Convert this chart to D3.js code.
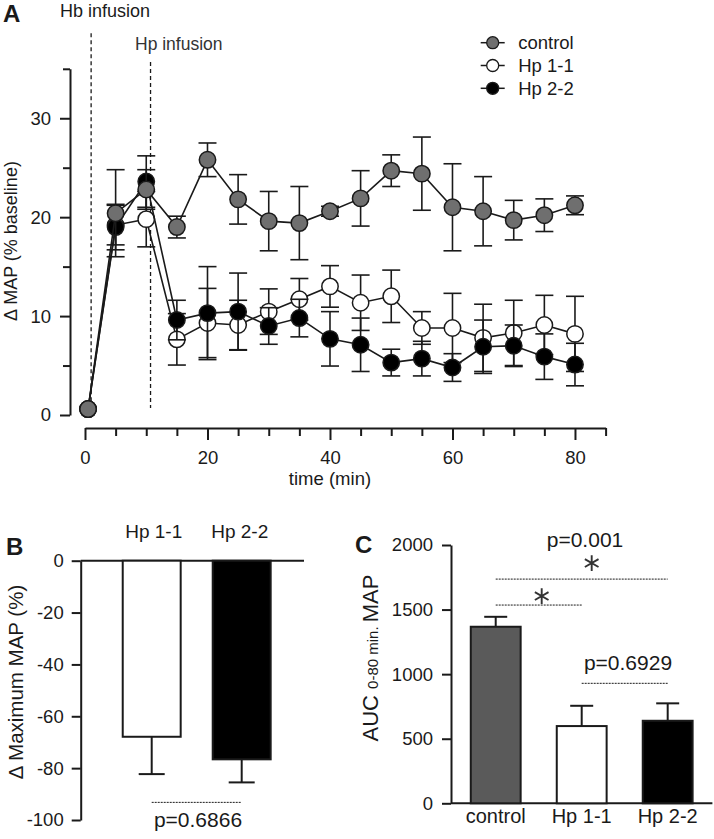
<!DOCTYPE html>
<html><head><meta charset="utf-8">
<script src="https://cdn.jsdelivr.net/npm/d3@7"></script>
<style>
body{margin:0;background:#fff}
svg{display:block;font-family:"Liberation Sans",Arial,Helvetica,sans-serif}
</style>
</head><body>
<svg id="chart" width="714" height="839"></svg>
<script>
// ---------- Panel A data ----------
const timeMin = [0.5, 5, 10, 15, 20, 25, 30, 35, 40, 45, 50, 55, 60, 65, 70, 75, 80];
const controlMAP = [0.6, 20.4, 22.8, 19.0, 25.8, 21.8, 19.6, 19.4, 20.6, 21.9, 24.7, 24.4, 21.0, 20.6, 19.7, 20.2, 21.2];
const controlSEM = [0, 4.4, 2.0, 1.1, 1.7, 2.5, 3.0, 3.7, 0.5, 2.8, 1.6, 3.7, 4.4, 3.5, 2.0, 1.65, 0.95];
const hp11MAP = [0.6, 19.2, 19.8, 7.65, 9.3, 9.1, 10.45, 11.7, 13.0, 11.35, 12.0, 8.8, 8.8, 7.8, 8.3, 9.1, 8.2];
const hp11SEM = [0, 2.0, 2.8, 2.6, 3.5, 2.5, 2.3, 2.1, 2.1, 2.8, 2.65, 1.65, 3.5, 3.4, 3.3, 3.0, 3.8];
const hp22MAP = [0.6, 19.0, 23.6, 9.6, 10.3, 10.45, 9.0, 9.8, 7.7, 7.1, 5.3, 5.7, 4.8, 6.9, 7.0, 5.9, 5.1];
const hp22SEM = [0, 2.3, 2.6, 2.0, 4.7, 3.9, 1.85, 1.9, 2.75, 2.7, 1.35, 1.75, 1.4, 2.7, 2.1, 2.3, 2.15];
const xTicksA = [0, 20, 40, 60, 80];
const yTicksA = [0, 10, 20, 30];
const hbInfusionTime = 1;
const hpInfusionTime = 10.7;

// ---------- Panel B data ----------
const catB = ["Hp 1-1", "Hp 2-2"];
const maxMAP = [-67.9, -76.6];
const maxMAPsem = [14.4, 8.9];
const yTicksB = [0, -20, -40, -60, -80, -100];

// ---------- Panel C data ----------
const catC = ["control", "Hp 1-1", "Hp 2-2"];
const aucMAP = [1367, 598, 639];
const aucSEM = [77, 157, 135];
const yTicksC = [0, 500, 1000, 1500, 2000];

const svg = d3.select("#chart");
const ink = "#1a1a1a";

function styleAxis(g, fs) {
  g.selectAll("path").attr("stroke", ink).attr("stroke-width", 2);
  g.selectAll("line").attr("stroke", ink).attr("stroke-width", 2);
  g.selectAll("text").attr("fill", ink).style("font-size", fs + "px").style("font-family", '"Liberation Sans",Arial,sans-serif');
}

// ================= PANEL A =================
const xA = d3.scaleLinear().domain([0, 85]).range([85, 605.6]);
const yA = d3.scaleLinear().domain([0, 35]).range([415, 68.8]);
const yAxisX = 70, xAxisY = 428;

const gyA = svg.append("g").attr("transform", `translate(${yAxisX},0)`)
  .call(d3.axisLeft(yA).tickValues(yTicksA).tickSize(10).tickSizeOuter(0).tickPadding(9));
styleAxis(gyA, 18.5);
const gyA2 = svg.append("g").attr("transform", `translate(${yAxisX},0)`)
  .call(d3.axisLeft(yA).tickValues(d3.range(5, 40, 10)).tickSize(7).tickFormat(""));
gyA2.select("path").remove();
styleAxis(gyA2, 18);

const gxA = svg.append("g").attr("transform", `translate(0,${xAxisY})`)
  .call(d3.axisBottom(xA).tickValues(xTicksA).tickSize(12).tickSizeOuter(0).tickPadding(11));
styleAxis(gxA, 18.5);
const gxA2 = svg.append("g").attr("transform", `translate(0,${xAxisY})`)
  .call(d3.axisBottom(xA).tickValues(d3.range(5, 90, 5).filter(v => v % 20 !== 0)).tickSize(8).tickFormat(""));
gxA2.select("path").remove();
styleAxis(gxA2, 18);

svg.append("text").attr("transform", `translate(16.5,${241}) rotate(-90)`)
  .attr("text-anchor", "middle").style("font-size", "18px").attr("fill", ink).text("Δ MAP (% baseline)");
svg.append("text").attr("x", xA(40)).attr("y", 485).attr("text-anchor", "middle")
  .style("font-size", "18.5px").attr("fill", ink).text("time (min)");

svg.append("line").attr("x1", xA(hbInfusionTime)).attr("x2", xA(hbInfusionTime))
  .attr("y1", yA(38.6)).attr("y2", yA(0.7))
  .attr("stroke", ink).attr("stroke-width", 1.3).attr("stroke-dasharray", "4,3");
svg.append("line").attr("x1", xA(hpInfusionTime)).attr("x2", xA(hpInfusionTime))
  .attr("y1", yA(35.7)).attr("y2", yA(0.7))
  .attr("stroke", ink).attr("stroke-width", 1.3).attr("stroke-dasharray", "4,3");
svg.append("text").attr("x", 60).attr("y", 17).style("font-size", "18px").attr("fill", ink).text("Hb infusion");
svg.append("text").attr("x", 135).attr("y", 50).style("font-size", "17.5px").attr("fill", "#333").text("Hp infusion");
svg.append("text").attr("x", 3).attr("y", 22).style("font-size", "24px").style("font-weight", "bold").attr("fill", ink).text("A");

const seriesA = [
  { name: "Hp 1-1", vals: hp11MAP, errs: hp11SEM, fill: "#ffffff" },
  { name: "Hp 2-2", vals: hp22MAP, errs: hp22SEM, fill: "#000000" },
  { name: "control", vals: controlMAP, errs: controlSEM, fill: "#6f6f6f" }
];
const capW = 9;
seriesA.forEach(s => {
  const g = svg.append("g");
  const pts = timeMin.map((t, i) => ({ t, v: s.vals[i], e: s.errs[i] }));
  const eb = g.selectAll("g.eb").data(pts.filter(d => d.e > 0)).enter().append("g")
    .attr("stroke", ink).attr("stroke-width", 1.6);
  eb.append("line").attr("x1", d => xA(d.t)).attr("x2", d => xA(d.t))
    .attr("y1", d => yA(d.v - d.e)).attr("y2", d => yA(d.v + d.e));
  eb.append("line").attr("x1", d => xA(d.t) - capW).attr("x2", d => xA(d.t) + capW)
    .attr("y1", d => yA(d.v + d.e)).attr("y2", d => yA(d.v + d.e));
  eb.append("line").attr("x1", d => xA(d.t) - capW).attr("x2", d => xA(d.t) + capW)
    .attr("y1", d => yA(d.v - d.e)).attr("y2", d => yA(d.v - d.e));
  g.append("path").datum(pts)
    .attr("d", d3.line().x(d => xA(d.t)).y(d => yA(d.v)))
    .attr("fill", "none").attr("stroke", ink).attr("stroke-width", 1.6);
  g.selectAll("circle").data(pts).enter().append("circle")
    .attr("cx", d => xA(d.t)).attr("cy", d => yA(d.v)).attr("r", 8.2)
    .attr("fill", s.fill).attr("stroke", ink).attr("stroke-width", 1.5);
});

const legendItems = [
  { name: "control", fill: "#6f6f6f" },
  { name: "Hp 1-1", fill: "#ffffff" },
  { name: "Hp 2-2", fill: "#000000" }
];
const lg = svg.append("g").attr("transform", "translate(492.7,42.7)");
legendItems.forEach((d, i) => {
  const row = lg.append("g").attr("transform", `translate(0,${i * 22.8})`);
  row.append("line").attr("x1", -12).attr("x2", 12).attr("stroke", ink).attr("stroke-width", 1.5);
  row.append("circle").attr("r", 6).attr("fill", d.fill).attr("stroke", ink).attr("stroke-width", 1.3);
  row.append("text").attr("x", 25.5).attr("y", 6.5).style("font-size", "18.5px").attr("fill", ink).text(d.name);
});

// ================= PANEL B =================
const yB = d3.scaleLinear().domain([-100, 0]).range([820, 560.7]);
const xB = d3.scaleBand().domain(catB).range([80.7, 312.7]).paddingInner(0.356).paddingOuter(0.467);
const bAxisX = 80.7;
const gyB = svg.append("g").attr("transform", `translate(${bAxisX},0)`)
  .call(d3.axisLeft(yB).tickValues(yTicksB).tickSize(9).tickSizeOuter(0).tickPadding(8).tickFormat(d3.format("d")));
styleAxis(gyB, 18.5);
gyB.selectAll("text").text(d => d < 0 ? "-" + Math.abs(d) : d);
svg.append("line").attr("x1", bAxisX).attr("x2", 304).attr("y1", yB(0)).attr("y2", yB(0))
  .attr("stroke", ink).attr("stroke-width", 2);

const barsB = svg.append("g");
catB.forEach((c, i) => {
  const cx = xB(c) + xB.bandwidth() / 2;
  barsB.append("line").attr("x1", cx).attr("x2", cx)
    .attr("y1", yB(maxMAP[i])).attr("y2", yB(maxMAP[i] - maxMAPsem[i]))
    .attr("stroke", ink).attr("stroke-width", 2);
  barsB.append("line").attr("x1", cx - 13).attr("x2", cx + 13)
    .attr("y1", yB(maxMAP[i] - maxMAPsem[i])).attr("y2", yB(maxMAP[i] - maxMAPsem[i]))
    .attr("stroke", ink).attr("stroke-width", 2);
  barsB.append("rect").attr("x", xB(c)).attr("width", xB.bandwidth())
    .attr("y", yB(0)).attr("height", yB(maxMAP[i]) - yB(0))
    .attr("fill", i === 0 ? "#fff" : "#000").attr("stroke", ink).attr("stroke-width", 2);
  svg.append("text").attr("x", cx + (i === 0 ? 2 : -2)).attr("y", 538).attr("text-anchor", "middle")
    .style("font-size", "19px").attr("fill", ink).text(c);
});
svg.append("line").attr("x1", xB(catB[0]) + xB.bandwidth() / 2).attr("x2", xB(catB[1]) + xB.bandwidth() / 2)
  .attr("y1", yB(-93.2)).attr("y2", yB(-93.2))
  .attr("stroke", ink).attr("stroke-width", 1).attr("stroke-dasharray", "2,1");
svg.append("text").attr("x", 198).attr("y", 826.5).attr("text-anchor", "middle")
  .style("font-size", "21px").attr("fill", ink).text("p=0.6866");
svg.append("text").attr("transform", `translate(23,682) rotate(-90)`).attr("text-anchor", "middle")
  .style("font-size", "20.5px").attr("fill", ink).text("Δ Maximum MAP (%)");
svg.append("text").attr("x", 6).attr("y", 555).style("font-size", "24px").style("font-weight", "bold").attr("fill", ink).text("B");

// ================= PANEL C =================
const yC = d3.scaleLinear().domain([0, 2000]).range([803.3, 545]);
const xC = d3.scaleBand().domain(catC).range([451, 712.4]).paddingInner(0.42).paddingOuter(0.23);
const cAxisX = 451;
const gyC = svg.append("g").attr("transform", `translate(${cAxisX},0)`)
  .call(d3.axisLeft(yC).tickValues(yTicksC).tickSize(9).tickSizeOuter(0).tickPadding(9).tickFormat(d3.format("d")));
styleAxis(gyC, 18.5);
svg.append("line").attr("x1", cAxisX).attr("x2", 712.4).attr("y1", yC(0)).attr("y2", yC(0))
  .attr("stroke", ink).attr("stroke-width", 2);

const fillsC = ["#5a5a5a", "#ffffff", "#000000"];
catC.forEach((c, i) => {
  const cx = xC(c) + xC.bandwidth() / 2;
  svg.append("line").attr("x1", cx).attr("x2", cx)
    .attr("y1", yC(aucMAP[i])).attr("y2", yC(aucMAP[i] + aucSEM[i]))
    .attr("stroke", ink).attr("stroke-width", 2);
  svg.append("line").attr("x1", cx - 11.5).attr("x2", cx + 11.5)
    .attr("y1", yC(aucMAP[i] + aucSEM[i])).attr("y2", yC(aucMAP[i] + aucSEM[i]))
    .attr("stroke", ink).attr("stroke-width", 2);
  svg.append("rect").attr("x", xC(c)).attr("width", xC.bandwidth())
    .attr("y", yC(aucMAP[i])).attr("height", yC(0) - yC(aucMAP[i]))
    .attr("fill", fillsC[i]).attr("stroke", ink).attr("stroke-width", 2);
  svg.append("text").attr("x", cx).attr("y", 823).attr("text-anchor", "middle")
    .style("font-size", "20px").attr("fill", ink).text(c);
});
const cCenter = c => xC(c) + xC.bandwidth() / 2;
const sigLines = [
  { from: "control", to: "Hp 2-2", v: 1736 },
  { from: "control", to: "Hp 1-1", v: 1535 },
  { from: "Hp 1-1", to: "Hp 2-2", v: 929 }
];
sigLines.forEach(s => {
  svg.append("line").attr("x1", cCenter(s.from)).attr("x2", cCenter(s.to))
    .attr("y1", yC(s.v)).attr("y2", yC(s.v))
    .attr("stroke", ink).attr("stroke-width", 1).attr("stroke-dasharray", "2,1");
});
svg.append("text").attr("x", 585).attr("y", 546.5).attr("text-anchor", "middle")
  .style("font-size", "21px").attr("fill", ink).text("p=0.001");
svg.append("text").attr("x", 628).attr("y", 670).attr("text-anchor", "middle")
  .style("font-size", "21px").attr("fill", ink).text("p=0.6929");
const star = d3.symbol().type(d3.symbolAsterisk).size(175);
[{ x: 591.7, v: 1860 }, { x: 541.7, v: 1605 }].forEach(s => {
  svg.append("path").attr("d", star()).attr("transform", `translate(${s.x},${yC(s.v)})`)
    .attr("fill", "none").attr("stroke", "#333").attr("stroke-width", 1.9);
});
const aucLabel = svg.append("text").attr("transform", `translate(378,658) rotate(-90)`)
  .attr("text-anchor", "middle").attr("fill", ink).style("font-size", "22px");
aucLabel.append("tspan").text("AUC ");
aucLabel.append("tspan").style("font-size", "15px").text("0-80 min. ");
aucLabel.append("tspan").text("MAP");
svg.append("text").attr("x", 355).attr("y", 553).style("font-size", "24px").style("font-weight", "bold").attr("fill", ink).text("C");
</script>
</body></html>
